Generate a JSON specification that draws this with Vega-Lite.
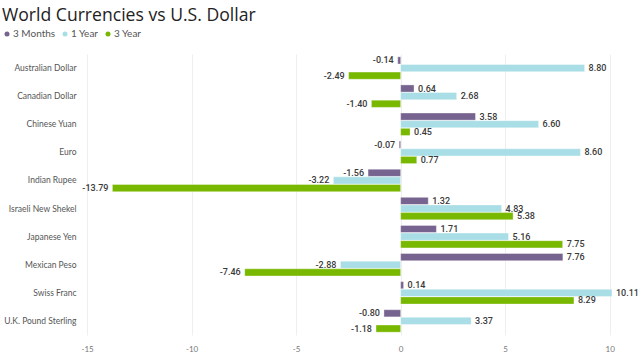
{
  "$schema": "https://vega.github.io/schema/vega-lite/v6.json",
  "autosize": "none",
  "width": 560,
  "height": 281,
  "padding": {"left": 80, "top": 54, "right": 0, "bottom": 23},
  "background": "white",
  "title": {
    "text": "World Currencies vs U.S. Dollar",
    "anchor": "start",
    "frame": "group",
    "font": "Open Sans",
    "fontSize": 17.6,
    "fontWeight": "normal",
    "color": "#222222",
    "dx": -78,
    "dy": -4,
    "offset": 0
  },
  "config": {
    "view": {"stroke": null},
    "font": "Lato",
    "locale": {
      "number": {"decimal": ".", "thousands": ",", "grouping": [3], "currency": ["$", ""], "minus": "-"}
    }
  },
  "data": {
    "values": [
      {"Currency": "Australian Dollar", "Period": "3 Months", "Value": -0.14},
      {"Currency": "Australian Dollar", "Period": "1 Year", "Value": 8.80},
      {"Currency": "Australian Dollar", "Period": "3 Year", "Value": -2.49},
      {"Currency": "Canadian Dollar", "Period": "3 Months", "Value": 0.64},
      {"Currency": "Canadian Dollar", "Period": "1 Year", "Value": 2.68},
      {"Currency": "Canadian Dollar", "Period": "3 Year", "Value": -1.40},
      {"Currency": "Chinese Yuan", "Period": "3 Months", "Value": 3.58},
      {"Currency": "Chinese Yuan", "Period": "1 Year", "Value": 6.60},
      {"Currency": "Chinese Yuan", "Period": "3 Year", "Value": 0.45},
      {"Currency": "Euro", "Period": "3 Months", "Value": -0.07},
      {"Currency": "Euro", "Period": "1 Year", "Value": 8.60},
      {"Currency": "Euro", "Period": "3 Year", "Value": 0.77},
      {"Currency": "Indian Rupee", "Period": "3 Months", "Value": -1.56},
      {"Currency": "Indian Rupee", "Period": "1 Year", "Value": -3.22},
      {"Currency": "Indian Rupee", "Period": "3 Year", "Value": -13.79},
      {"Currency": "Israeli New Shekel", "Period": "3 Months", "Value": 1.32},
      {"Currency": "Israeli New Shekel", "Period": "1 Year", "Value": 4.83},
      {"Currency": "Israeli New Shekel", "Period": "3 Year", "Value": 5.38},
      {"Currency": "Japanese Yen", "Period": "3 Months", "Value": 1.71},
      {"Currency": "Japanese Yen", "Period": "1 Year", "Value": 5.16},
      {"Currency": "Japanese Yen", "Period": "3 Year", "Value": 7.75},
      {"Currency": "Mexican Peso", "Period": "3 Months", "Value": 7.76},
      {"Currency": "Mexican Peso", "Period": "1 Year", "Value": -2.88},
      {"Currency": "Mexican Peso", "Period": "3 Year", "Value": -7.46},
      {"Currency": "Swiss Franc", "Period": "3 Months", "Value": 0.14},
      {"Currency": "Swiss Franc", "Period": "1 Year", "Value": 10.11},
      {"Currency": "Swiss Franc", "Period": "3 Year", "Value": 8.29},
      {"Currency": "U.K. Pound Sterling", "Period": "3 Months", "Value": -0.80},
      {"Currency": "U.K. Pound Sterling", "Period": "1 Year", "Value": 3.37},
      {"Currency": "U.K. Pound Sterling", "Period": "3 Year", "Value": -1.18}
    ]
  },
  "encoding": {
    "y": {
      "field": "Currency",
      "type": "nominal",
      "sort": null,
      "scale": {"paddingInner": 0.2, "paddingOuter": 0.1},
      "axis": {
        "title": null,
        "domain": false,
        "ticks": false,
        "labelPadding": 4,
        "labelFontSize": 8.5,
        "labelColor": "#555555",
        "labelFont": "Lato"
      }
    },
    "yOffset": {
      "field": "Period",
      "type": "nominal",
      "sort": ["3 Months", "1 Year", "3 Year"],
      "scale": {"paddingInner": 0.06, "paddingOuter": 0}
    },
    "x": {
      "field": "Value",
      "type": "quantitative",
      "scale": {"domain": [-15.34, 11.45], "nice": false, "zero": false},
      "axis": {
        "title": null,
        "values": [-15, -10, -5, 0, 5, 10],
        "domain": false,
        "ticks": false,
        "labelFontSize": 8,
        "labelFont": "Lato",
        "labelColor": "#777777",
        "labelPadding": 10,
        "gridColor": "#eeeeee",
        "gridWidth": 1,
        "format": "d"
      }
    }
  },
  "layer": [
    {
      "mark": {"type": "bar", "stroke": "white", "strokeWidth": 0.6, "strokeOpacity": 0.6},
      "encoding": {
        "color": {
          "field": "Period",
          "type": "nominal",
          "sort": ["3 Months", "1 Year", "3 Year"],
          "scale": {
            "domain": ["3 Months", "1 Year", "3 Year"],
            "range": ["#77638F", "#A9DEE6", "#78B800"]
          },
          "legend": {
            "title": null,
            "orient": "none",
            "legendX": -78,
            "legendY": -25,
            "direction": "horizontal",
            "symbolType": "circle",
            "symbolSize": 25,
            "symbolStrokeWidth": 0,
            "labelFontSize": 10,
            "labelColor": "#555555",
            "labelFont": "Lato",
            "labelOffset": 1,
            "columnPadding": 4,
            "symbolOffset": 0
          }
        }
      }
    },
    {
      "transform": [{"filter": "datum.Value >= 0"}],
      "mark": {
        "type": "text",
        "align": "left",
        "baseline": "middle",
        "dx": 4,
        "fontSize": 9,
        "font": "Roboto",
        "fontWeight": 500,
        "color": "#3a3a3a"
      },
      "encoding": {"text": {"field": "Value", "type": "quantitative", "format": ".2f"}}
    },
    {
      "transform": [{"filter": "datum.Value < 0"}],
      "mark": {
        "type": "text",
        "align": "right",
        "baseline": "middle",
        "dx": -4,
        "fontSize": 9,
        "font": "Roboto",
        "fontWeight": 500,
        "color": "#3a3a3a"
      },
      "encoding": {"text": {"field": "Value", "type": "quantitative", "format": ".2f"}}
    }
  ]
}
